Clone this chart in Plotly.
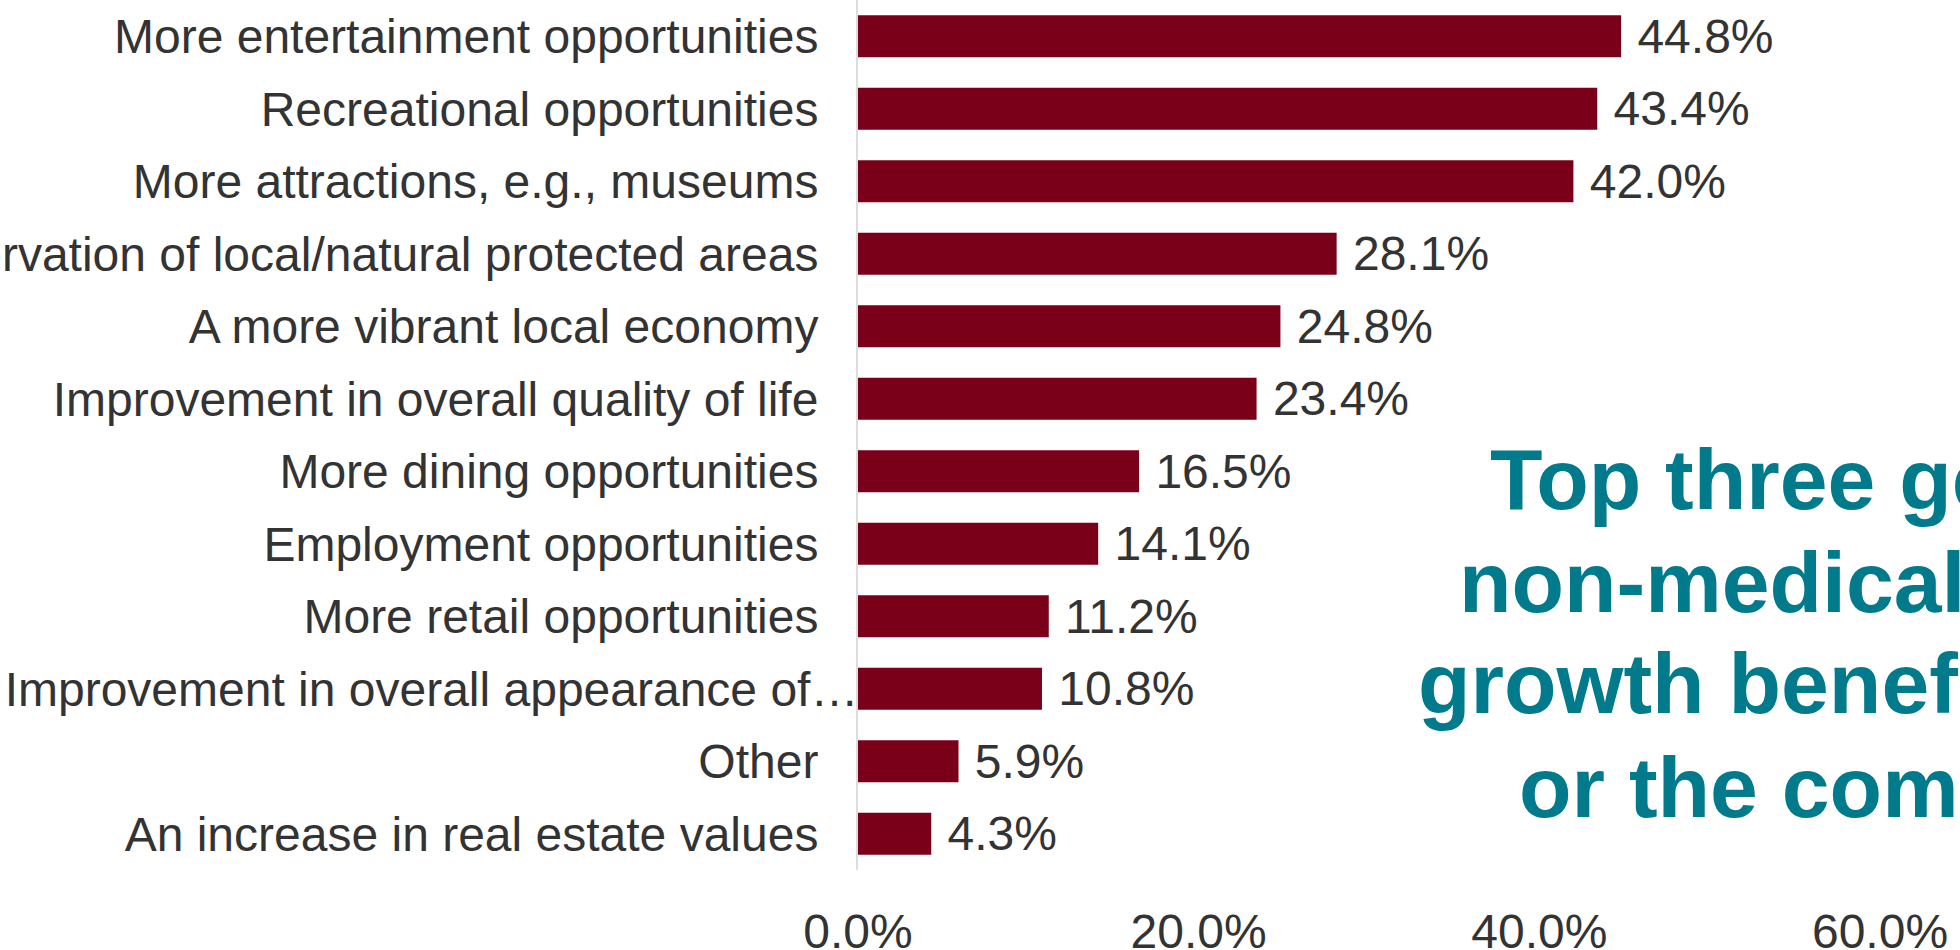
import plotly.graph_objects as go

# Survey responses: perceived non-medical growth benefits (share of respondents, %)
categories = [
    "More entertainment opportunities",
    "Recreational opportunities",
    "More attractions, e.g., museums",
    "Preservation of local/natural protected areas",
    "A more vibrant local economy",
    "Improvement in overall quality of life",
    "More dining opportunities",
    "Employment opportunities",
    "More retail opportunities",
    "Improvement in overall appearance of\u2026",
    "Other",
    "An increase in real estate values",
]
shares = [44.8, 43.4, 42.0, 28.1, 24.8, 23.4, 16.5, 14.1, 11.2, 10.8, 5.9, 4.3]

x_ticks = [0, 20, 40, 60]

headline_lines = [
    "Top three general",
    "non-medical campus",
    "growth benefits",
    "or the community",
]

BAR_COLOR = "#7A0019"
TEXT_COLOR = "#333333"
ACCENT = "#017A8C"
FONT = "Liberation Sans, Arial, sans-serif"

W, H = 1960, 950
M_L, M_R, M_T, M_B = 858, 80, 0, 80
plot_w = W - M_L - M_R
plot_h = H - M_T - M_B

# Truncated labels run up to the axis; the rest keep a small gap from it.
gap = "\u00a0" * 3
tick_text = [c if c.endswith("\u2026") else c + gap for c in categories]
x_tick_text = [f"{v:.1f}%" for v in x_ticks]

fig = go.Figure(
    go.Bar(
        x=shares,
        y=categories,
        orientation="h",
        marker=dict(color=BAR_COLOR, line=dict(width=0)),
        texttemplate="\u00a0%{x:.1f}%",
        textposition="outside",
        textfont=dict(family=FONT, size=48, color=TEXT_COLOR),
        constraintext="none",
        cliponaxis=False,
        hoverinfo="skip",
    )
)

fig.update_layout(
    width=W,
    height=H,
    margin=dict(l=M_L, r=M_R, t=M_T, b=M_B, pad=0),
    paper_bgcolor="white",
    plot_bgcolor="white",
    bargap=0.42,
    showlegend=False,
    font=dict(family=FONT, color=TEXT_COLOR, size=48),
    xaxis=dict(
        range=[0, 60],
        tickvals=x_ticks,
        ticktext=x_tick_text,
        showgrid=False,
        zeroline=False,
        showline=False,
        ticks="",
        ticklen=0,
        ticklabelstandoff=29,
        tickfont=dict(family=FONT, size=48, color=TEXT_COLOR),
        automargin=False,
        fixedrange=True,
    ),
    yaxis=dict(
        tickvals=categories,
        ticktext=tick_text,
        autorange="reversed",
        showgrid=False,
        zeroline=False,
        showline=True,
        linecolor="#DDDDDD",
        linewidth=2,
        ticks="",
        ticklen=0,
        ticklabelstandoff=-12,
        tickfont=dict(family=FONT, size=48, color=TEXT_COLOR),
        automargin=False,
        fixedrange=True,
    ),
)

# Headline text, one annotation per line (left edges and line centres in pixels)
line_left_px = [1489, 1458, 1417, 1518]
line_mid_px = [479, 582, 683, 787]
for txt, lx, my in zip(headline_lines, line_left_px, line_mid_px):
    fig.add_annotation(
        text=f"<b>{txt}</b>",
        xref="paper",
        yref="paper",
        x=(lx - M_L) / plot_w,
        y=(plot_h - (my - M_T)) / plot_h,
        xanchor="left",
        yanchor="middle",
        showarrow=False,
        align="left",
        borderpad=0,
        font=dict(family=FONT, size=86, color=ACCENT),
    )

fig.write_html("out.html")
